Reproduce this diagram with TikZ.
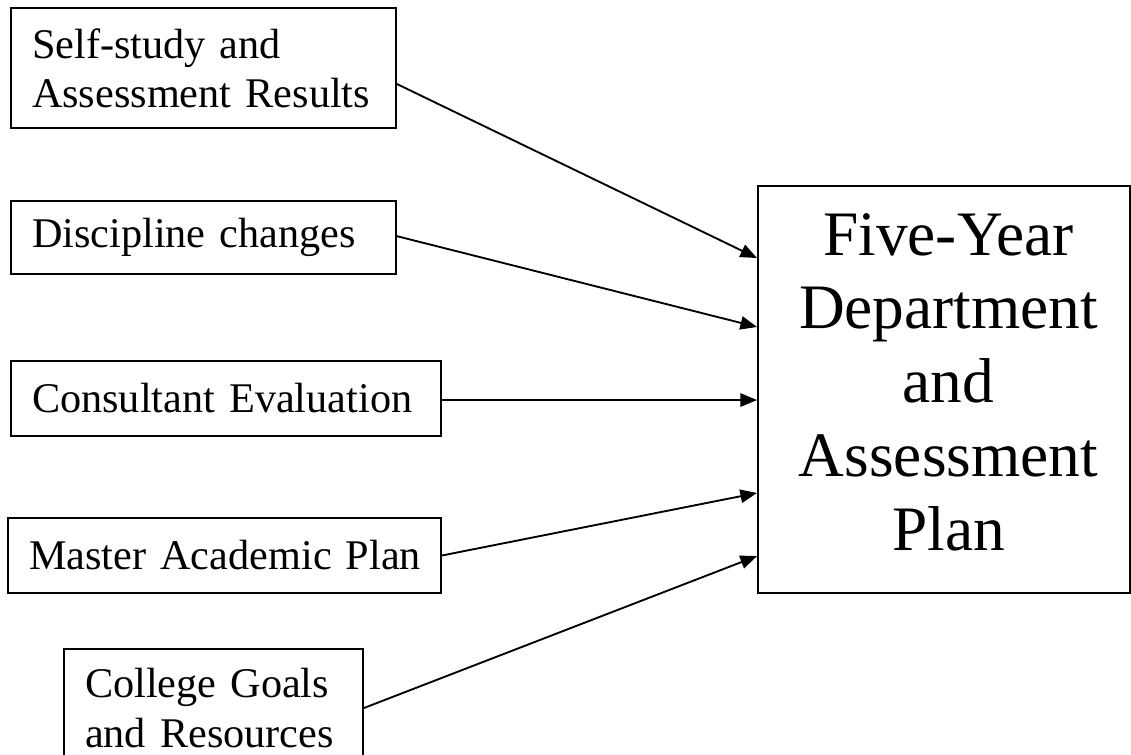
\documentclass[tikz,border=0pt]{standalone}
\usepackage{fontspec}
\setmainfont{Liberation Serif}
\usetikzlibrary{arrows.meta}
\begin{document}
\begin{tikzpicture}[
  x=0.75pt, y=-0.75pt,
  line width=1.4pt,
  inbox/.style={draw, rectangle, align=left, inner xsep=15.75pt, inner ysep=0pt,
    font=\fontsize{31.7}{37}\selectfont},
  planbox/.style={draw, rectangle, inner sep=0pt},
  plantext/.style={align=center, inner sep=0pt,
    font=\fontsize{47.5}{55.3}\selectfont},
  feed/.style={-{Triangle[length=12.5pt,width=10pt]}}
]
\useasboundingbox (0,0) rectangle (1131,754);

% input boxes on the left
\node[inbox, minimum width=288.75pt, minimum height=90pt, text width=257.25pt]
  (b1) at (203.5,68) {\mbox{Self-study and}\\\mbox{Assessment Results}};
\node[inbox, minimum width=288.75pt, minimum height=54.75pt, text width=257.25pt]
  (b2) at (203.5,237.5) {\mbox{Discipline changes}};
\node[inbox, minimum width=322.5pt, minimum height=56.25pt, text width=291pt]
  (b3) at (226,398.5) {\mbox{Consultant Evaluation}};
\node[inbox, minimum width=324.75pt, minimum height=56.25pt, text width=293.25pt]
  (b4) at (224.5,555.5) {\mbox{Master Academic Plan}};
\node[inbox, minimum width=224.25pt, minimum height=88.5pt, text width=192.75pt]
  (b5) at (213.5,708) {\mbox{College Goals}\\\mbox{and Resources}};

% the resulting plan
\node[planbox, minimum width=279pt, minimum height=305.25pt]
  (plan) at (944,389.5) {};
\node[plantext] (plantitle) at (948.5,382)
  {Five-Year\\Department\\and\\Assessment\\Plan};

% inputs feeding the plan
\draw[feed] ([yshift=-12pt]b1.east) -- ([yshift=98.6pt]plan.west);
\draw[feed] ([yshift=1pt]b2.east) -- ([yshift=46.9pt]plan.west);
\draw[feed] ([yshift=-7.9pt]plan.west -| b3.east) -- ([yshift=-7.9pt]plan.west);
\draw[feed] (b4.east) -- ([yshift=-77.6pt]plan.west);
\draw[feed] (b5.east) -- ([yshift=-124.9pt]plan.west);
\end{tikzpicture}
\end{document}
